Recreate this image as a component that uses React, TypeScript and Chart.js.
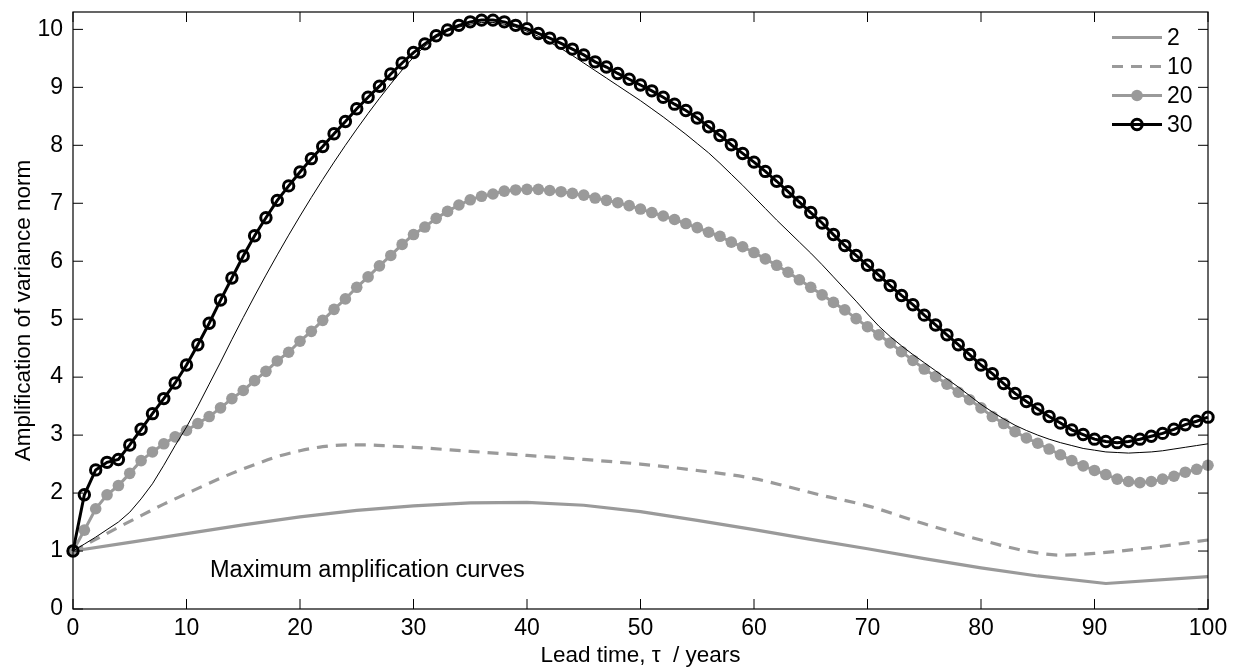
import { useEffect, useRef } from 'react';
import { Chart, registerables } from 'chart.js';

Chart.register(...registerables);

const FONT = '"Liberation Sans", Arial, Helvetica, sans-serif';
const GRAY = '#9a9a9a';

const years = Array.from({ length: 101 }, (_, i) => i);

const series30 = [
  1.00, 1.97, 2.40, 2.53, 2.58, 2.83, 3.10, 3.37, 3.63, 3.90,
  4.21, 4.56, 4.93, 5.33, 5.71, 6.09, 6.44, 6.75, 7.05, 7.30,
  7.54, 7.77, 7.98, 8.20, 8.41, 8.63, 8.83, 9.02, 9.23, 9.42,
  9.60, 9.75, 9.89, 9.99, 10.07, 10.13, 10.16, 10.16, 10.13, 10.07,
  10.01, 9.93, 9.85, 9.76, 9.66, 9.56, 9.44, 9.35, 9.24, 9.14,
  9.04, 8.94, 8.83, 8.71, 8.60, 8.47, 8.32, 8.17, 8.01, 7.86,
  7.71, 7.55, 7.38, 7.20, 7.02, 6.84, 6.66, 6.46, 6.27, 6.10,
  5.93, 5.76, 5.58, 5.41, 5.25, 5.07, 4.90, 4.73, 4.56, 4.39,
  4.21, 4.06, 3.89, 3.72, 3.58, 3.45, 3.32, 3.21, 3.09, 3.01,
  2.93, 2.89, 2.87, 2.89, 2.93, 2.98, 3.03, 3.10, 3.18, 3.24,
  3.31,
];

const series20 = [
  1.00, 1.36, 1.73, 1.97, 2.13, 2.34, 2.56, 2.71, 2.85, 2.97,
  3.08, 3.20, 3.32, 3.47, 3.63, 3.77, 3.94, 4.10, 4.28, 4.43,
  4.62, 4.79, 4.98, 5.17, 5.35, 5.55, 5.73, 5.92, 6.10, 6.29,
  6.46, 6.59, 6.74, 6.86, 6.97, 7.06, 7.12, 7.16, 7.21, 7.23,
  7.24, 7.24, 7.22, 7.20, 7.17, 7.14, 7.09, 7.05, 7.01, 6.96,
  6.90, 6.84, 6.78, 6.72, 6.65, 6.58, 6.50, 6.43, 6.33, 6.25,
  6.15, 6.04, 5.93, 5.81, 5.68, 5.55, 5.42, 5.29, 5.16, 5.01,
  4.87, 4.73, 4.59, 4.44, 4.29, 4.14, 4.01, 3.88, 3.74, 3.61,
  3.47, 3.32, 3.20, 3.06, 2.95, 2.86, 2.76, 2.66, 2.56, 2.47,
  2.39, 2.32, 2.24, 2.20, 2.18, 2.20, 2.24, 2.29, 2.36, 2.41,
  2.48,
];

const maxAmplification = [
  1.00, 1.12, 1.24, 1.37, 1.50, 1.67, 1.90, 2.16, 2.48, 2.82,
  3.14, 3.50, 3.88, 4.26, 4.65, 5.03, 5.40, 5.76, 6.11, 6.45,
  6.78, 7.10, 7.41, 7.71, 8.00, 8.28, 8.55, 8.81, 9.06, 9.30,
  9.52, 9.71, 9.86, 9.97, 10.04, 10.09, 10.12, 10.12, 10.09, 10.04,
  9.97, 9.88, 9.78, 9.67, 9.55, 9.42, 9.29, 9.16, 9.03, 8.90,
  8.77, 8.63, 8.49, 8.34, 8.19, 8.03, 7.87, 7.69, 7.50, 7.31,
  7.11, 6.91, 6.71, 6.52, 6.33, 6.14, 5.94, 5.73, 5.52, 5.31,
  5.09, 4.88, 4.70, 4.54, 4.39, 4.25, 4.11, 3.97, 3.83, 3.68,
  3.53, 3.40, 3.28, 3.17, 3.08, 3.00, 2.93, 2.87, 2.82, 2.77,
  2.74, 2.71, 2.70, 2.69, 2.70, 2.71, 2.73, 2.76, 2.79, 2.82,
  2.85,
];

const series2Years = [0, 5, 10, 15, 20, 25, 30, 35, 40, 45, 50, 55, 60, 65, 70, 75, 80, 85, 91, 100];
const series2 = [1.00, 1.15, 1.30, 1.45, 1.59, 1.70, 1.78, 1.83, 1.84, 1.79, 1.68, 1.53, 1.37, 1.20, 1.04, 0.87, 0.71, 0.57, 0.44, 0.56];

const series10Years = [0, 2, 4, 6, 8, 10, 12, 14, 16, 18, 20, 22, 24, 26, 28, 30, 35, 40, 45, 50, 55, 60, 63, 66, 70, 75, 80, 84, 87, 90, 95, 100];
const series10 = [1.00, 1.20, 1.41, 1.61, 1.81, 1.99, 2.17, 2.34, 2.49, 2.63, 2.73, 2.80, 2.83, 2.83, 2.81, 2.79, 2.72, 2.65, 2.58, 2.50, 2.39, 2.25, 2.11, 1.96, 1.78, 1.47, 1.19, 1.00, 0.93, 0.96, 1.06, 1.19];

const xTicks = [0, 10, 20, 30, 40, 50, 60, 70, 80, 90, 100];
const yTicks = [0, 1, 2, 3, 4, 5, 6, 7, 8, 9, 10];
const legendOrder = ['2', '10', '20', '30'];
const annotationText = 'Maximum amplification curves';
const annotationPos = { x: 12.07, y: 0.55 };

const pts = (xs: number[], ys: number[]) => xs.map((x, i) => ({ x, y: ys[i] }));

const framePlugin = {
  id: 'frame',
  afterDatasetsDraw(chart: any) {
    const { ctx, chartArea: a, scales } = chart;
    const xs = scales.x;
    const ys = scales.y;
    ctx.save();
    ctx.strokeStyle = '#000';
    ctx.lineWidth = 1.2;
    ctx.strokeRect(a.left, a.top, a.right - a.left, a.bottom - a.top);
    const L = 10;
    ctx.lineWidth = 1;
    ctx.beginPath();
    xTicks.forEach((v) => {
      const px = xs.getPixelForValue(v);
      ctx.moveTo(px, a.bottom);
      ctx.lineTo(px, a.bottom - L);
      ctx.moveTo(px, a.top);
      ctx.lineTo(px, a.top + L);
    });
    yTicks.forEach((v) => {
      const py = ys.getPixelForValue(v);
      ctx.moveTo(a.left, py);
      ctx.lineTo(a.left + L, py);
      ctx.moveTo(a.right, py);
      ctx.lineTo(a.right - L, py);
    });
    ctx.stroke();

    ctx.fillStyle = '#000';
    ctx.font = `23.5px ${FONT}`;
    ctx.textAlign = 'left';
    ctx.textBaseline = 'alphabetic';
    ctx.fillText(annotationText, xs.getPixelForValue(annotationPos.x), ys.getPixelForValue(annotationPos.y));

    const x1 = a.right - 96;
    const x2 = a.right - 46;
    legendOrder.forEach((lab, i) => {
      const ds = chart.data.datasets.find((d: any) => d.label === lab);
      if (!ds) return;
      const yRow = a.top + 25.5 + i * 29;
      ctx.save();
      ctx.strokeStyle = ds.borderColor;
      ctx.lineWidth = ds.borderWidth;
      ctx.setLineDash(ds.borderDash || []);
      ctx.beginPath();
      ctx.moveTo(x1, yRow);
      ctx.lineTo(x2, yRow);
      ctx.stroke();
      ctx.setLineDash([]);
      if (ds.pointRadius > 0) {
        ctx.beginPath();
        ctx.arc((x1 + x2) / 2, yRow, ds.pointRadius, 0, Math.PI * 2);
        ctx.fillStyle = ds.pointBackgroundColor;
        ctx.fill();
        if (ds.pointBorderWidth > 0) {
          ctx.lineWidth = ds.pointBorderWidth;
          ctx.strokeStyle = ds.pointBorderColor;
          ctx.stroke();
        }
      }
      ctx.restore();
      ctx.fillStyle = '#000';
      ctx.font = `23px ${FONT}`;
      ctx.textAlign = 'left';
      ctx.textBaseline = 'middle';
      ctx.fillText(lab, a.right - 41, yRow + 1);
    });
    ctx.restore();
  },
};

export default function App() {
  const ref = useRef<HTMLCanvasElement | null>(null);

  useEffect(() => {
    if (!ref.current) return;
    const chart = new Chart(ref.current, {
      type: 'line',
      data: {
        datasets: [
          {
            label: '30',
            data: pts(years, series30),
            borderColor: '#000',
            borderWidth: 3,
            pointRadius: 5.2,
            pointBorderWidth: 3,
            pointBorderColor: '#000',
            pointBackgroundColor: 'rgba(0,0,0,0)',
            clip: false,
          },
          {
            label: 'max',
            data: pts(years, maxAmplification),
            borderColor: '#000',
            borderWidth: 1,
            pointRadius: 0,
            clip: false,
          },
          {
            label: '20',
            data: pts(years, series20),
            borderColor: GRAY,
            borderWidth: 3,
            pointRadius: 5.8,
            pointBorderWidth: 0,
            pointBorderColor: GRAY,
            pointBackgroundColor: GRAY,
            clip: false,
          },
          {
            label: '10',
            data: pts(series10Years, series10),
            borderColor: GRAY,
            borderWidth: 3.2,
            borderDash: [11, 8],
            pointRadius: 0,
            cubicInterpolationMode: 'monotone',
            clip: false,
          },
          {
            label: '2',
            data: pts(series2Years, series2),
            borderColor: GRAY,
            borderWidth: 3.2,
            pointRadius: 0,
            clip: false,
          },
        ] as any,
      },
      options: {
        animation: false,
        responsive: true,
        maintainAspectRatio: false,
        layout: { padding: { top: 12, right: 32, left: 0, bottom: 0 } },
        elements: { line: { tension: 0 } },
        plugins: { legend: { display: false }, tooltip: { enabled: false } },
        events: [],
        scales: {
          x: {
            type: 'linear',
            min: 0,
            max: 100,
            afterBuildTicks: (s: any) => {
              s.ticks = xTicks.map((v) => ({ value: v }));
            },
            afterFit: (s: any) => {
              s.height = 60;
              s.paddingLeft = 0;
              s.paddingRight = 0;
            },
            grid: { display: false, drawTicks: false },
            border: { display: false },
            ticks: {
              padding: 6,
              color: '#000',
              font: { family: FONT, size: 23 },
              maxRotation: 0,
              autoSkip: false,
            },
            title: {
              display: true,
              text: 'Lead time, τ  / years',
              color: '#000',
              font: { family: FONT, size: 22.5, lineHeight: 1.2 },
              padding: { top: 0, bottom: 0 },
            },
          },
          y: {
            type: 'linear',
            min: 0,
            max: 10.3,
            afterBuildTicks: (s: any) => {
              s.ticks = yTicks.map((v) => ({ value: v }));
            },
            afterFit: (s: any) => {
              s.width = 73;
              s.paddingTop = 0;
              s.paddingBottom = 0;
            },
            grid: { display: false, drawTicks: false },
            border: { display: false },
            ticks: {
              padding: 10,
              color: '#000',
              font: { family: FONT, size: 23 },
              autoSkip: false,
            },
            title: {
              display: true,
              text: 'Amplification of variance norm',
              color: '#000',
              font: { family: FONT, size: 22.5, lineHeight: 1.2 },
              padding: { top: 10, bottom: 0 },
            },
          },
        },
      } as any,
      plugins: [framePlugin],
    });
    return () => chart.destroy();
  }, []);

  return (
    <div style={{ position: 'fixed', left: 0, top: 0, width: 1240, height: 669, background: '#fff' }}>
      <canvas ref={ref} />
    </div>
  );
}
